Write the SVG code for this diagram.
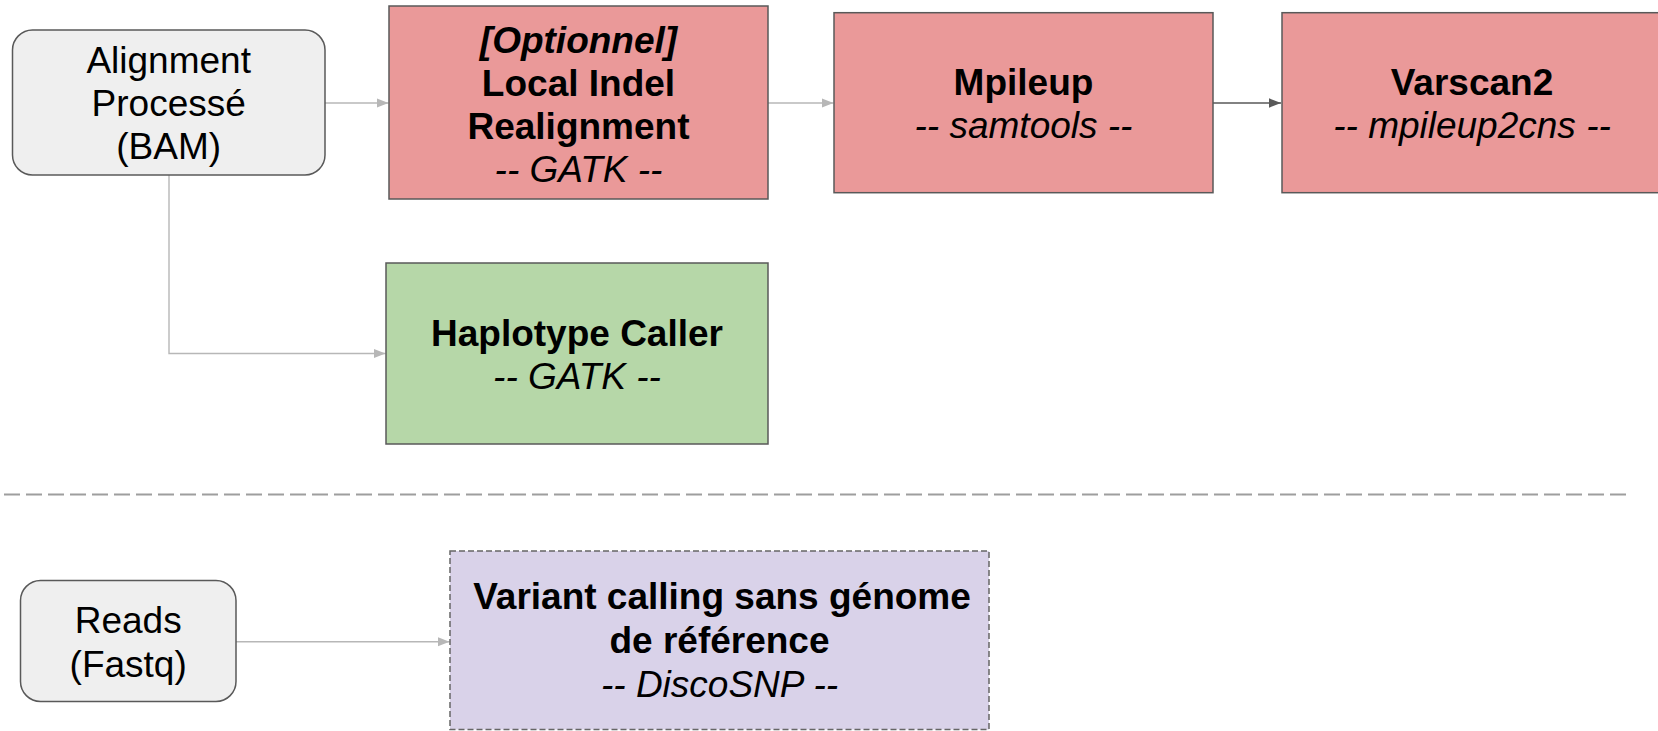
<svg xmlns="http://www.w3.org/2000/svg" width="1658" height="731" viewBox="0 0 1658 731">
<style>
  text { font-family: "Liberation Sans", Arial, sans-serif; font-size: 37px; fill: #000; text-anchor: middle; }
  .b { font-weight: bold; }
  .i { font-style: italic; }
  .box { stroke: #595959; stroke-width: 1.5; }
  .red { fill: #ea9999; }
  .green { fill: #b6d7a8; }
  .grey { fill: #efefef; }
  .purple { fill: #d9d2e9; stroke: #666666; stroke-dasharray: 6 3; }
  .conn { fill: none; stroke: #b7b7b7; stroke-width: 1.4; }
  .dark { stroke: #595959; }
  .sep { stroke: #9e9e9e; stroke-width: 2; stroke-dasharray: 16 6; }
</style>
<defs>
  <marker id="arr" viewBox="0 0 12 10" refX="12" refY="5" markerWidth="12" markerHeight="10" markerUnits="userSpaceOnUse" orient="auto">
    <path d="M0,0.3 L12,5 L0,9.7 Z" fill="#b7b7b7"/>
  </marker>
  <marker id="arrd" viewBox="0 0 12 10" refX="12" refY="5" markerWidth="12" markerHeight="10" markerUnits="userSpaceOnUse" orient="auto">
    <path d="M0,0.3 L12,5 L0,9.7 Z" fill="#595959"/>
  </marker>
</defs>

<line class="sep" x1="4" y1="494.5" x2="1626" y2="494.5"/>

<g id="connectors">
  <line class="conn" x1="325" y1="103" x2="388.5" y2="103" marker-end="url(#arr)"/>
  <line class="conn" x1="768" y1="103" x2="833.5" y2="103" marker-end="url(#arr)"/>
  <line class="conn dark" x1="1213" y1="103" x2="1281" y2="103" marker-end="url(#arrd)"/>
  <path class="conn" d="M169,175 V353.5 H385.5" marker-end="url(#arr)"/>
  <line class="conn" x1="236" y1="641.7" x2="449.5" y2="641.7" marker-end="url(#arr)"/>
</g>

<g id="alignment">
  <rect class="box grey" x="12.5" y="30" width="312.5" height="145" rx="20" ry="20"/>
  <text x="168.7" y="72.7">Alignment</text>
  <text x="168.7" y="116">Processé</text>
  <text x="168.7" y="159.3">(BAM)</text>
</g>

<g id="local-indel">
  <rect class="box red" x="389" y="6" width="379" height="193"/>
  <text class="b i" x="578.5" y="52.5">[Optionnel]</text>
  <text class="b" x="578.5" y="95.5">Local Indel</text>
  <text class="b" x="578.5" y="138.5">Realignment</text>
  <text class="i" x="578.5" y="181.5">-- GATK --</text>
</g>

<g id="mpileup">
  <rect class="box red" x="834" y="12.7" width="379" height="180"/>
  <text class="b" x="1023.5" y="95">Mpileup</text>
  <text class="i" x="1023.5" y="138.3">-- samtools --</text>
</g>

<g id="varscan2">
  <rect class="box red" x="1282" y="12.7" width="380" height="180"/>
  <text class="b" x="1472" y="95">Varscan2</text>
  <text class="i" x="1472" y="138.3">-- mpileup2cns --</text>
</g>

<g id="haplotype-caller">
  <rect class="box green" x="386" y="263" width="382" height="181"/>
  <text class="b" x="577" y="346">Haplotype Caller</text>
  <text class="i" x="577" y="389.3">-- GATK --</text>
</g>

<g id="reads">
  <rect class="box grey" x="20.5" y="580.5" width="215.5" height="121" rx="20" ry="20"/>
  <text x="128.2" y="632.7">Reads</text>
  <text x="128.2" y="676.7">(Fastq)</text>
</g>

<g id="variant-calling">
  <rect class="box purple" x="450" y="551" width="539" height="178.5"/>
  <text class="b" x="722" y="609.3">Variant calling sans génome</text>
  <text class="b" x="719.5" y="653.3">de référence</text>
  <text class="i" x="719.5" y="697.3">-- DiscoSNP --</text>
</g>
</svg>
